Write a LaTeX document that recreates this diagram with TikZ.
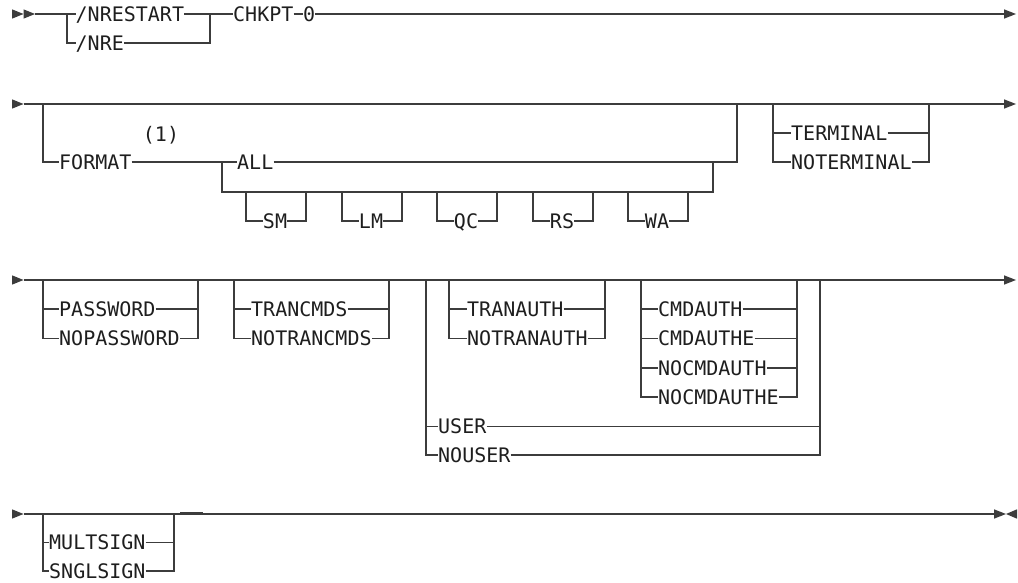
\documentclass[tikz,border=0pt]{standalone}
\usepackage{fontspec}
\newfontfamily\diagfont{DejaVu Sans Mono}
\definecolor{ln}{RGB}{60,60,60}
\definecolor{tx}{RGB}{30,30,30}
\begin{document}
\begin{tikzpicture}[x=1pt,y=-1pt,
  t/.style={anchor=west,inner sep=0pt,text height=14.6pt,text depth=0pt,font=\fontsize{20}{24}\diagfont,text=tx},
  tc/.style={t,anchor=center},
  rail/.style={draw=ln,line width=1.3pt},
  head/.style={fill=ln,draw=none}]
\useasboundingbox (0,0) rectangle (1018,583);

% ---------- Row 1 ----------
\fill[head] (12,9.3) -- (23.5,14) -- (12,18.7) -- cycle;
\fill[head] (23.5,9.3) -- (35,14) -- (23.5,18.7) -- cycle;
\coordinate (s1) at (35,14);
\coordinate (b1) at (67,14);
\coordinate (j1) at (210,14);
\coordinate (e1) at (1004,14);
\node[t] (nrestart) at (75.5,14) {/NRESTART};
\node[t] (nre) at (75.5,43) {/NRE};
\node[t] (chkpt) at (233,14) {CHKPT};
\node[t] (zero) at (303,14) {0};
\draw[rail] (s1) -- (nrestart.west);
\draw[rail] (b1) |- (nre.west);
\draw[rail] (nrestart.east) -- (chkpt.west);
\draw[rail] (nre.east) -| (j1);
\draw[rail] (chkpt.east) -- (zero.west);
\draw[rail] (zero.east) -- (e1);
\fill[head] (1004,9.3) -- (1016,14) -- (1004,18.7) -- cycle;

% ---------- Row 2 ----------
\fill[head] (12,99.3) -- (23.5,104) -- (12,108.7) -- cycle;
\coordinate (s2) at (23.5,104);
\coordinate (e2) at (1004,104);
\draw[rail] (s2) -- (e2);
\fill[head] (1004,99.3) -- (1016,104) -- (1004,108.7) -- cycle;
\coordinate (b2) at (43,104);
\coordinate (fmtj) at (737,104);
\node[t] (format) at (59,162) {FORMAT};
\node[tc] (note) at (161,134) {(1)};
\node[t] (all) at (237,162) {ALL};
\draw[rail] (b2) |- (format.west);
\draw[rail] (format.east) -- (all.west);
\draw[rail] (all.east) -| (fmtj);
\coordinate (opl) at (222,162);
\coordinate (opr) at (713,162);
\coordinate (optl) at (222,192);
\coordinate (optr) at (713,192);
\draw[rail] (opl) -- (optl) -- (optr) -- (opr);
\foreach \n/\L in {SM/246,LM/342,QC/437,RS/533,WA/628}{
  \node[tc] (o\n) at ({\L+29},221) {\n};
  \draw[rail] (\L,192) |- (o\n.west);
  \draw[rail] (o\n.east) -| ({\L+60},192);
}
\coordinate (tl) at (773,104);
\coordinate (tr) at (929,104);
\node[t] (term) at (791,133) {TERMINAL};
\node[t] (noterm) at (791,162) {NOTERMINAL};
\draw[rail] (tl) |- (noterm.west);
\draw[rail] (tl |- term) -- (term.west);
\draw[rail] (noterm.east) -| (tr);
\draw[rail] (term.east) -- (tr |- term);

% ---------- Row 3 ----------
\fill[head] (12,275.3) -- (23.5,280) -- (12,284.7) -- cycle;
\coordinate (s3) at (23.5,280);
\coordinate (e3) at (1004,280);
\draw[rail] (s3) -- (e3);
\fill[head] (1004,275.3) -- (1016,280) -- (1004,284.7) -- cycle;
% PASSWORD
\coordinate (pl) at (43,280);
\coordinate (pr) at (198,280);
\node[t] (pw) at (59,309) {PASSWORD};
\node[t] (nopw) at (59,338.5) {NOPASSWORD};
\draw[rail] (pl) |- (nopw.west);
\draw[rail] (pl |- pw) -- (pw.west);
\draw[rail] (nopw.east) -| (pr);
\draw[rail] (pw.east) -- (pr |- pw);
% TRANCMDS
\coordinate (cl) at (234,280);
\coordinate (cr) at (389,280);
\node[t] (tc1) at (251,309) {TRANCMDS};
\node[t] (notc) at (251,338.5) {NOTRANCMDS};
\draw[rail] (cl) |- (notc.west);
\draw[rail] (cl |- tc1) -- (tc1.west);
\draw[rail] (notc.east) -| (cr);
\draw[rail] (tc1.east) -- (cr |- tc1);
% USER group
\coordinate (ul) at (426,280);
\coordinate (ur) at (820,280);
\node[t] (user) at (438,426.5) {USER};
\node[t] (nouser) at (438,455) {NOUSER};
\draw[rail] (ul) |- (nouser.west);
\draw[rail] (ul |- user) -- (user.west);
\draw[rail] (nouser.east) -| (ur);
\draw[rail] (user.east) -- (ur |- user);
% TRANAUTH
\coordinate (al) at (449,280);
\coordinate (ar) at (605,280);
\node[t] (ta) at (467,309) {TRANAUTH};
\node[t] (nota) at (467,338.5) {NOTRANAUTH};
\draw[rail] (al) |- (nota.west);
\draw[rail] (al |- ta) -- (ta.west);
\draw[rail] (nota.east) -| (ar);
\draw[rail] (ta.east) -- (ar |- ta);
% CMDAUTH
\coordinate (ml) at (641,280);
\coordinate (mr) at (797,280);
\node[t] (ca) at (658,309) {CMDAUTH};
\node[t] (cae) at (658,338.5) {CMDAUTHE};
\node[t] (nca) at (658,368) {NOCMDAUTH};
\node[t] (ncae) at (658,397) {NOCMDAUTHE};
\draw[rail] (ml) |- (ncae.west);
\draw[rail] (ncae.east) -| (mr);
\foreach \k in {ca,cae,nca}{
  \draw[rail] (ml |- \k) -- (\k.west);
  \draw[rail] (\k.east) -- (mr |- \k);
}

% ---------- Row 4 ----------
\fill[head] (12,509.3) -- (23.5,514) -- (12,518.7) -- cycle;
\coordinate (s4) at (23.5,514);
\coordinate (e4) at (994,514);
\draw[rail] (s4) -- (e4);
\draw[ln,line width=2.2pt] (180,513.3) -- (203,513.3);
\fill[head] (994,509.3) -- (1006,514) -- (994,518.7) -- cycle;
\fill[head] (1017,509.3) -- (1006,514) -- (1017,518.7) -- cycle;
\coordinate (gl) at (43,514);
\coordinate (gr) at (174,514);
\node[t] (ms) at (49,542.5) {MULTSIGN};
\node[t] (ss) at (49,571) {SNGLSIGN};
\draw[rail] (gl) |- (ss.west);
\draw[rail] (gl |- ms) -- (ms.west);
\draw[rail] (ss.east) -| (gr);
\draw[rail] (ms.east) -- (gr |- ms);
\end{tikzpicture}
\end{document}
